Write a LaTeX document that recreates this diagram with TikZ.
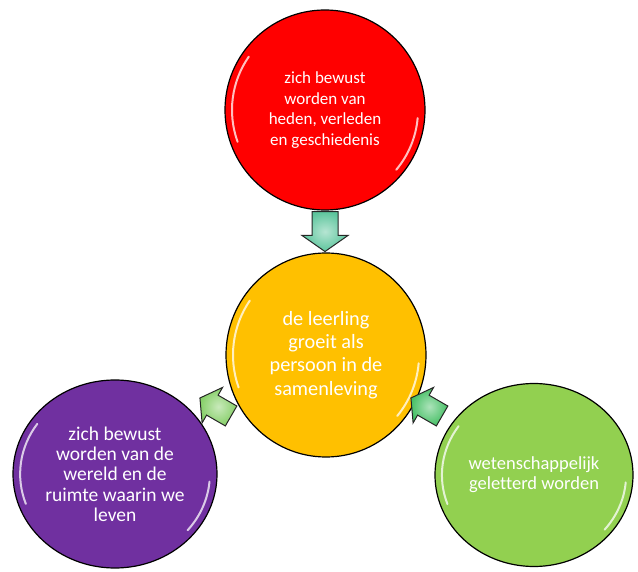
\documentclass[tikz,border=0pt]{standalone}
\usepackage{fontspec}
\setmainfont{Carlito}[Ligatures=CommonOff]
\usetikzlibrary{shapes.geometric, shapes.arrows, calc}
\definecolor{histred}{HTML}{FF0000}
\definecolor{hubgold}{HTML}{FFC000}
\definecolor{worldviolet}{HTML}{7030A0}
\definecolor{scigreen}{HTML}{92D050}
\definecolor{tealarrow}{HTML}{5CC59C}
\definecolor{leafarrow}{HTML}{86CF68}
\definecolor{mintarrow}{HTML}{47C066}

\begin{document}
\begin{tikzpicture}[x=1pt, y=1pt,
    bubble/.style={ellipse, draw=black, line width=1.2pt, text=white, align=center,
        inner sep=0pt, font=\fontsize{17}{20.5}\selectfont},
    pointer/.style={single arrow, draw=black!85, line width=1pt, inner sep=12.5pt,
        minimum height=40pt, single arrow head extend=10pt, single arrow tip angle=110,
        single arrow head indent=0pt, shading=radial},
    gloss/.style={white, line width=2pt, opacity=.75, line cap=round}]
    \useasboundingbox (0,0) rectangle (638,-572);
    % the four bubbles
    \node[bubble, fill=histred, minimum width=200pt, minimum height=200pt] (hist) at (325,-110)
        {zich bewust\\worden van\\heden, verleden\\en geschiedenis};
    \node[bubble, fill=hubgold, minimum width=200pt, minimum height=204pt,
        font=\fontsize{20.3}{23.3}\selectfont] (hub) at (326,-355)
        {de leerling\\groeit als\\persoon in de\\samenleving};
    \node[bubble, fill=worldviolet, minimum width=204pt, minimum height=188pt,
        font=\fontsize{19.5}{20.3}\selectfont] (world) at (115,-474)
        {zich bewust\\worden van de\\wereld en de\\ruimte waarin we\\leven};
    \node[bubble, fill=scigreen, minimum width=198pt, minimum height=183pt,
        font=\fontsize{18.5}{20}\selectfont] (sci) at (534,-475)
        {wetenschappelijk\\geletterd worden};
    % glossy rims
    \foreach \n/\rx/\ry in {hist/100/100, hub/100/102, world/102/94, sci/99/91.5}{
        \draw[gloss] (\n.center) ++(145:{0.93*\rx} and {0.93*\ry})
            arc[start angle=145, end angle=200, x radius=0.93*\rx, y radius=0.93*\ry];
        \draw[gloss] (\n.center) ++(-5:{0.93*\rx} and {0.93*\ry})
            arc[start angle=-5, end angle=-40, x radius=0.93*\rx, y radius=0.93*\ry];
    }
    % block arrows
    \node[pointer, inner color=white!55!tealarrow, outer color=tealarrow, rotate=-90] (down) at (325,-227) {};
    \node[pointer, inner color=white!55!leafarrow, outer color=leafarrow, rotate=150,
        minimum height=36pt, inner sep=11pt, single arrow head extend=9pt] (upleft) at (219,-409) {};
    \node[pointer, inner color=white!55!mintarrow, outer color=mintarrow, rotate=150,
        minimum height=36pt, inner sep=11pt, single arrow head extend=9pt] (upright) at (430,-409) {};
\end{tikzpicture}
\end{document}
